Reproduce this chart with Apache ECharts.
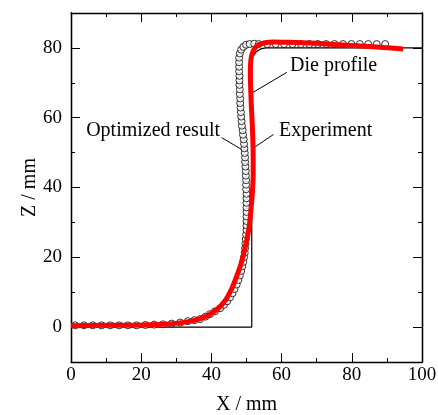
<!DOCTYPE html>
<html>
<head>
<meta charset="utf-8">
<script src="https://cdn.jsdelivr.net/npm/echarts@6/dist/echarts.min.js"></script>
<style>
  html, body { margin: 0; padding: 0; background: #fff; }
  #chart { width: 438px; height: 415px; }
</style>
</head>
<body>
<div id="chart"></div>
<script>
// die contour [x, z] in mm
const dieProfile = [
    [0, 0], [51.5, 0], [51.5, 76], [51.8, 77.5], [52.7, 78.8], [54, 79.7], [55.5, 80], [100, 80]
];

// measured sheet profile
const experiment = [
    [0, 0.4], [10, 0.5], [20, 0.6], [28, 0.9], [33, 1.5], [36.5, 2.3], [39, 3.3], [41, 4.6],
    [42.8, 6.2], [44.5, 8.5], [46, 11.5], [47.3, 14.8], [48.4, 18], [49.3, 21.5], [50.1, 25],
    [50.8, 29], [51.3, 34], [51.7, 39], [51.9, 44], [51.9, 49], [51.8, 54], [51.6, 59],
    [51.4, 63], [51.2, 68], [51.1, 72.5], [51.2, 76], [51.6, 78.3], [52.4, 80], [53.6, 81],
    [55.3, 81.5], [57.5, 81.7], [62, 81.6], [70, 81.3], [80, 80.7], [88, 80.2], [94.6, 79.7]
];

// simulated (optimized) nodes
const optimized = [
    [1.2, 0.5], [3.7, 0.5], [6.2, 0.5], [8.7, 0.5], [11.2, 0.5], [13.7, 0.5], [16.2, 0.5],
    [18.7, 0.5], [21.2, 0.6], [23.7, 0.7], [26.2, 0.8], [28.7, 1.0], [31.1, 1.3], [33.3, 1.7],
    [35.2, 2.0], [36.8, 2.3], [38.3, 3.0], [39.6, 3.7], [41.0, 4.5], [42.5, 5.4], [43.6, 6.4],
    [44.5, 7.4], [45.3, 8.5], [46.0, 9.7], [46.6, 10.9], [47.2, 12.2], [47.7, 13.5], [48.1, 14.8],
    [48.5, 16.1], [48.8, 17.4], [49.1, 18.7], [49.3, 20], [49.5, 21.3], [49.6, 22.6], [49.7, 23.9],
    [49.8, 25.2], [49.9, 26.5], [50.0, 27.8], [50.0, 29.1], [50.0, 30.4], [50.0, 31.7], [50.0, 33],
    [50.0, 34.3], [50.0, 35.6], [50.0, 36.9], [50.0, 38.2], [49.9, 39.5], [49.9, 40.8], [49.9, 42.1],
    [49.8, 43.4], [49.8, 44.7], [49.7, 46], [49.6, 47.3], [49.6, 48.6], [49.5, 49.9], [49.4, 51.2],
    [49.3, 52.5], [49.2, 53.8], [49.0, 55.1], [48.9, 56.4], [48.7, 57.7], [48.6, 59], [48.5, 60.3],
    [48.4, 61.6], [48.3, 62.9], [48.2, 64.2], [48.2, 65.5], [48.1, 66.8], [48.1, 68.1], [48.0, 69.4],
    [48.0, 70.7], [48.0, 72], [47.9, 73.3], [47.9, 74.6], [47.9, 75.9], [47.9, 77.2], [48.1, 78.4],
    [48.5, 79.5], [49.1, 80.3], [49.9, 80.9], [50.9, 81.1], [52.2, 81.2], [53.5, 81.1], [55.9, 81.1],
    [58.3, 81.1], [60.7, 81.1], [63.1, 81.1], [65.5, 81.1], [67.9, 81.1], [70.3, 81.1], [72.7, 81.1],
    [75.1, 81.1], [77.5, 81.1], [79.9, 81.1], [82.3, 81.1], [84.7, 81.1], [87.1, 81.1], [89.5, 81.1]
];

// leader lines for the annotations
const dieLeader = [[51.6, 67.1], [61.5, 73.0]];
const optLeader = [[42.9, 54.3], [48.6, 50.9]];
const expLeader = [[57.7, 55.2], [52.4, 51.6]];

const zTicks = [0, 20, 40, 60, 80];
const zMinorTicks = [-10, 10, 30, 50, 70, 90];

const FONT = 'Liberation Serif';
const chart = echarts.init(document.getElementById('chart'));

const axisLine = { show: true, onZero: false, lineStyle: { color: '#000', width: 1.3 } };

function yAxisOf(position, values, len, withLabel) {
    return {
        type: 'value', position: position, min: -10, max: 90,
        axisLine: axisLine,
        splitLine: { show: false },
        axisTick: { show: true, inside: true, length: len, customValues: values, lineStyle: { color: '#000', width: 1 } },
        axisLabel: withLabel
            ? { show: true, customValues: zTicks, margin: 9, fontFamily: FONT, fontSize: 19, color: '#000' }
            : { show: false },
        name: withLabel ? 'Z / mm' : '',
        nameLocation: 'middle',
        nameGap: 31,
        nameMoveOverlap: false,
        nameTextStyle: { fontFamily: FONT, fontSize: 20, color: '#000' }
    };
}

function xAxisOf(position, withLabel) {
    return {
        type: 'value', position: position, min: 0, max: 100, interval: 20,
        axisLine: axisLine,
        splitLine: { show: false },
        axisTick: { show: true, inside: true, length: 9, lineStyle: { color: '#000', width: 1 } },
        minorTick: { show: true, splitNumber: 2, length: 4, lineStyle: { color: '#000', width: 1 } },
        minorSplitLine: { show: false },
        axisLabel: withLabel
            ? { show: true, margin: 4, fontFamily: FONT, fontSize: 19, color: '#000' }
            : { show: false },
        name: withLabel ? 'X / mm' : '',
        nameLocation: 'middle',
        nameGap: 33,
        nameMoveOverlap: false,
        nameTextStyle: { fontFamily: FONT, fontSize: 20, color: '#000' }
    };
}

function leader(data) {
    return {
        type: 'line', data: data, symbol: 'none', silent: true,
        lineStyle: { color: '#000', width: 1 }, z: 4
    };
}

const textStyle = { fontFamily: FONT, fontSize: 20, fill: '#000' };

const option = {
    animation: false,
    backgroundColor: '#fff',
    grid: { left: 71, right: 16, top: 13, bottom: 53, outerBoundsMode: 'none' },
    xAxis: [xAxisOf('bottom', true), xAxisOf('top', false)],
    yAxis: [
        yAxisOf('left', zTicks, 9, true),
        yAxisOf('left', zMinorTicks, 4, false),
        yAxisOf('right', zTicks, 9, false),
        yAxisOf('right', zMinorTicks, 4, false)
    ],
    series: [
        {
            type: 'line', data: dieProfile, symbol: 'none',
            lineStyle: { color: '#000', width: 1.2 }, z: 2
        },
        {
            type: 'scatter', data: optimized, symbol: 'circle', symbolSize: 7,
            itemStyle: { color: '#fff', borderColor: '#000', borderWidth: 1 }, z: 3
        },
        {
            type: 'line', data: experiment, symbol: 'none', smooth: 0.2,
            lineStyle: { color: '#ff0000', width: 5 }, z: 5
        },
        leader(dieLeader),
        leader(optLeader),
        leader(expLeader)
    ],
    graphic: [
        { type: 'text', x: 290, y: 66, style: Object.assign({ text: 'Die profile', align: 'left', verticalAlign: 'middle' }, textStyle) },
        { type: 'text', x: 220, y: 131, style: Object.assign({ text: 'Optimized result', align: 'right', verticalAlign: 'middle' }, textStyle) },
        { type: 'text', x: 279, y: 131, style: Object.assign({ text: 'Experiment', align: 'left', verticalAlign: 'middle' }, textStyle) }
    ]
};

chart.setOption(option);
</script>
</body>
</html>
